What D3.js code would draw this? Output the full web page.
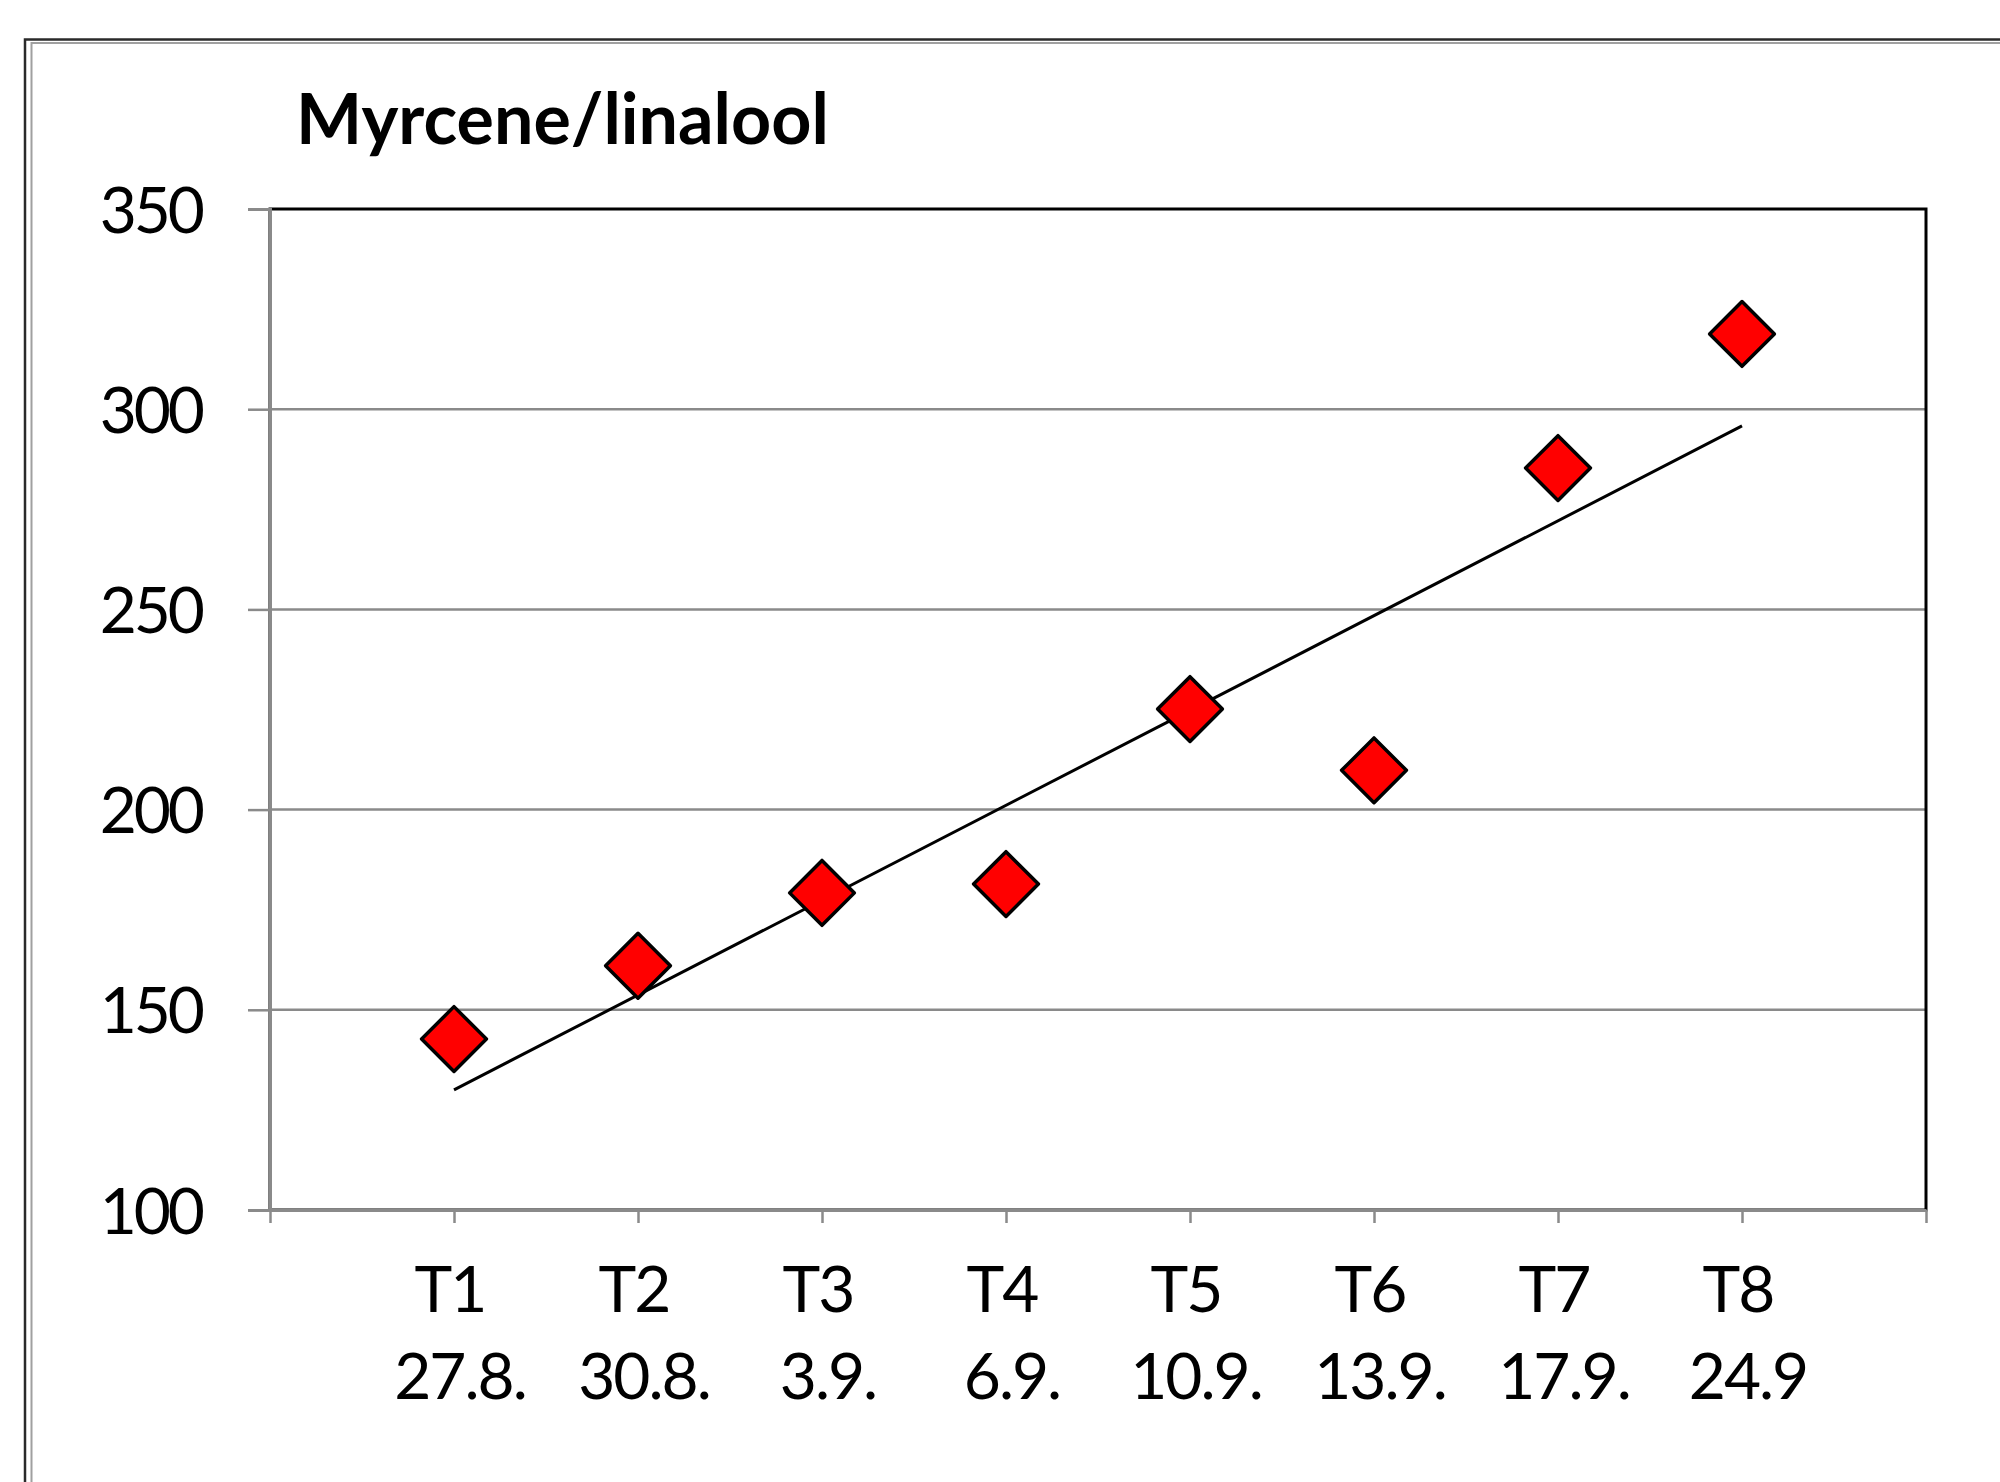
<!DOCTYPE html>
<html>
<head>
<meta charset="utf-8">
<script src="https://cdn.jsdelivr.net/npm/d3@7"></script>
<style>
  body { margin: 0; background: #fff; }
  svg { display: block; }
  text { font-family: Lato, "Open Sans", sans-serif; fill: #000; }
</style>
</head>
<body>
<script>
const w = 2000;
const h = 1482;
const plot = { left: 270, right: 1926, top: 209, bottom: 1210 };

// data
const categories = ['T1', 'T2', 'T3', 'T4', 'T5', 'T6', 'T7', 'T8'];
const dates = ['27.8.', '30.8.', '3.9.', '6.9.', '10.9.', '13.9.', '17.9.', '24.9'];
const values = [142.7, 161.0, 179.2, 181.4, 225.1, 209.8, 285.3, 318.8];
const yTicks = [100, 150, 200, 250, 300, 350];
const title = 'Myrcene/linalool';

const svg = d3.select('body')
  .append('svg')
  .attr('width', w)
  .attr('height', h);

svg.append('rect').attr('width', w).attr('height', h).attr('fill', '#fff');

// outer chart border (double line, runs off the right and bottom edge)
svg.append('rect')
  .attr('x', 25).attr('y', 39.5)
  .attr('width', 2100).attr('height', 1600)
  .attr('fill', 'none').attr('stroke', '#2a2a2a').attr('stroke-width', 2.5);
svg.append('rect')
  .attr('x', 31.5).attr('y', 43)
  .attr('width', 2100).attr('height', 1600)
  .attr('fill', 'none').attr('stroke', '#a0a0a0').attr('stroke-width', 2);

const xScale = d3.scaleLinear().domain([0, categories.length + 1]).range([plot.left, plot.right]);
const yScale = d3.scaleLinear().domain([100, 350]).range([plot.bottom, plot.top]);

// gridlines
svg.append('g')
  .selectAll('line')
  .data(yTicks.filter(t => t > 100 && t < 350))
  .enter()
  .append('line')
  .attr('x1', plot.left).attr('x2', plot.right)
  .attr('y1', d => yScale(d)).attr('y2', d => yScale(d))
  .attr('stroke', '#8a8a8a').attr('stroke-width', 2.5);

// plot area border
svg.append('rect')
  .attr('x', plot.left).attr('y', plot.top)
  .attr('width', plot.right - plot.left).attr('height', plot.bottom - plot.top)
  .attr('fill', 'none').attr('stroke', '#000').attr('stroke-width', 3);

const yAxis = d3.axisLeft(yScale)
  .tickValues(yTicks)
  .tickSize(22)
  .tickPadding(46)
  .tickFormat(d3.format('d'));

const gy = svg.append('g')
  .attr('transform', `translate(${plot.left},0)`)
  .call(yAxis);
gy.select('.domain').attr('stroke', '#8a8a8a').attr('stroke-width', 3);
gy.selectAll('.tick line').attr('stroke', '#8a8a8a').attr('stroke-width', 2.5);
gy.selectAll('.tick text')
  .style('font-family', 'Lato, sans-serif')
  .style('font-size', '64px')
  .style('letter-spacing', '-3px')
  .attr('fill', '#000')
  .attr('dy', '0.36em');

const xAxis = d3.axisBottom(xScale)
  .tickValues(d3.range(0, categories.length + 2))
  .tickSize(13)
  .tickSizeOuter(0)
  .tickFormat('');

const gx = svg.append('g')
  .attr('transform', `translate(0,${plot.bottom})`)
  .call(xAxis);
gx.select('.domain').attr('stroke', '#8a8a8a').attr('stroke-width', 3);
gx.selectAll('.tick line').attr('stroke', '#8a8a8a').attr('stroke-width', 2.5);

// category labels, two lines each
const labels = svg.append('g')
  .selectAll('text')
  .data(categories)
  .enter()
  .append('text')
  .attr('text-anchor', 'middle')
  .style('font-size', '64px')
  .style('letter-spacing', '-2px');
labels.append('tspan')
  .attr('x', (d, i) => xScale(i + 1) - 4)
  .attr('y', 1312)
  .text(d => d);
labels.append('tspan')
  .attr('x', (d, i) => xScale(i + 1) + 6)
  .attr('y', 1399)
  .text((d, i) => dates[i]);

// linear trendline from least squares fit
const xs = values.map((v, i) => i + 1);
const mx = d3.mean(xs);
const my = d3.mean(values);
const slope = d3.sum(xs, (x, i) => (x - mx) * (values[i] - my)) / d3.sum(xs, x => (x - mx) * (x - mx));
const icpt = my - slope * mx;
const trend = [1, categories.length].map(x => [x, icpt + slope * x]);

svg.append('path')
  .datum(trend)
  .attr('d', d3.line().x(d => xScale(d[0])).y(d => yScale(d[1])))
  .attr('fill', 'none')
  .attr('stroke', '#000')
  .attr('stroke-width', 3);

// diamond markers
const diamond = d3.symbol().type(d3.symbolSquare).size(2100);
svg.append('g')
  .selectAll('path')
  .data(values)
  .enter()
  .append('path')
  .attr('d', diamond)
  .attr('transform', (d, i) => `translate(${xScale(i + 1)},${yScale(d)}) rotate(45)`)
  .attr('fill', '#ff0000')
  .attr('stroke', '#000')
  .attr('stroke-width', 3.5)
  .attr('stroke-linejoin', 'round');

svg.append('text')
  .attr('x', 296)
  .attr('y', 144)
  .style('font-size', '70px')
  .style('font-weight', 'bold')
  .text(title);
</script>
</body>
</html>
